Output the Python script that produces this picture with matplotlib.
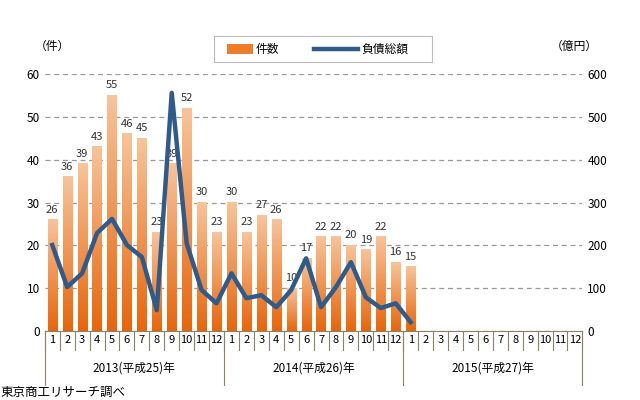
import numpy as np
import matplotlib.pyplot as plt
from matplotlib.patches import Rectangle
from matplotlib.colors import LinearSegmentedColormap

plt.rcParams["font.family"] = "Noto Sans CJK JP"

months = [str(m) for m in range(1, 13)] * 3
years = ["2013(平成25)年", "2014(平成26)年", "2015(平成27)年"]
counts = [26, 36, 39, 43, 55, 46, 45, 23, 39, 52, 30, 23,
          30, 23, 27, 26, 10, 17, 22, 22, 20, 19, 22, 16,
          15]
debt = [201, 103, 135, 229, 262, 201, 173, 49, 556, 205, 96, 65,
        135, 77, 84, 56, 96, 170, 56, 103, 161, 79, 54, 65,
        21]

fig = plt.figure(figsize=(6.4, 4.0), dpi=100)
ax = fig.add_axes([0.07, 0.172, 0.84, 0.643])
ax2 = ax.twinx()

x = np.arange(len(counts))
grad = LinearSegmentedColormap.from_list("o", ["#e8650a", "#f8c49a"])
img = np.linspace(0, 1, 256).reshape(-1, 1)
bars = ax.bar(x, counts, width=0.62, color="none", zorder=2)
for b in bars:
    x0, y0 = b.get_x(), 0
    w, h = b.get_width(), b.get_height()
    ax.imshow(img, cmap=grad, aspect="auto", origin="lower",
              extent=[x0, x0 + w, 0, h], zorder=2)
for xi, c in zip(x, counts):
    ax.text(xi, c + 1.2, str(c), ha="center", va="bottom", fontsize=8,
            color="#333333", zorder=5)

ax.set_xlim(-0.5, 35.5)
ax.set_ylim(0, 60)
ax.set_yticks(range(0, 61, 10))
ax.yaxis.grid(True, ls=(0, (4, 3)), color="#999999", lw=0.9)
ax.set_axisbelow(True)
ax.set_xticks(x if False else np.arange(36))
ax.set_xticklabels(months, fontsize=8)
ax.tick_params(axis="x", length=0, pad=3)
ax.tick_params(axis="y", length=0, labelsize=8.5)
for s in ["top", "right", "left"]:
    ax.spines[s].set_visible(False)
ax.spines["bottom"].set_color("#8a8266")

ax2.plot(x, debt, color="#2f5a8c", lw=3.2, zorder=6)
ax2.set_ylim(0, 600)
ax2.set_yticks(range(0, 601, 100))
ax2.tick_params(axis="y", length=0, labelsize=8.5)
for s in ax2.spines.values():
    s.set_visible(False)

# month separators and year labels
for i in range(37):
    ax.plot([i - 0.5, i - 0.5], [0, -4.5], color="#8a8266", lw=0.8, clip_on=False)
for k, yl in enumerate(years):
    ax.plot([12 * k - 0.5] * 2, [0, -12.5], color="#8a8266", lw=0.8, clip_on=False)
    ax.text(12 * k + 5.5, -8.5, yl, ha="center", va="center", fontsize=8.5)
ax.plot([35.5] * 2, [0, -12.5], color="#8a8266", lw=0.8, clip_on=False)

fig.text(0.055, 0.875, "（件）", fontsize=8.5, ha="left")
fig.text(0.86, 0.875, "（億円）", fontsize=8.5, ha="left")
fig.text(0.0, 0.01, "東京商工リサーチ調べ", fontsize=9, ha="left")

# legend
fig.patches.append(Rectangle((0.335, 0.845), 0.34, 0.065, transform=fig.transFigure,
                             facecolor="white", edgecolor="#bbbbbb", lw=0.8))
fig.patches.append(Rectangle((0.355, 0.865), 0.04, 0.025, transform=fig.transFigure,
                             facecolor="#ee7d2a", edgecolor="none"))
fig.text(0.4, 0.877, "件数", fontsize=8.5, va="center")
fig.lines.append(plt.Line2D([0.49, 0.56], [0.877, 0.877], transform=fig.transFigure,
                            color="#2f5a8c", lw=3.2))
fig.text(0.565, 0.877, "負債総額", fontsize=8.5, va="center")

fig.savefig("out.png", dpi=100)
